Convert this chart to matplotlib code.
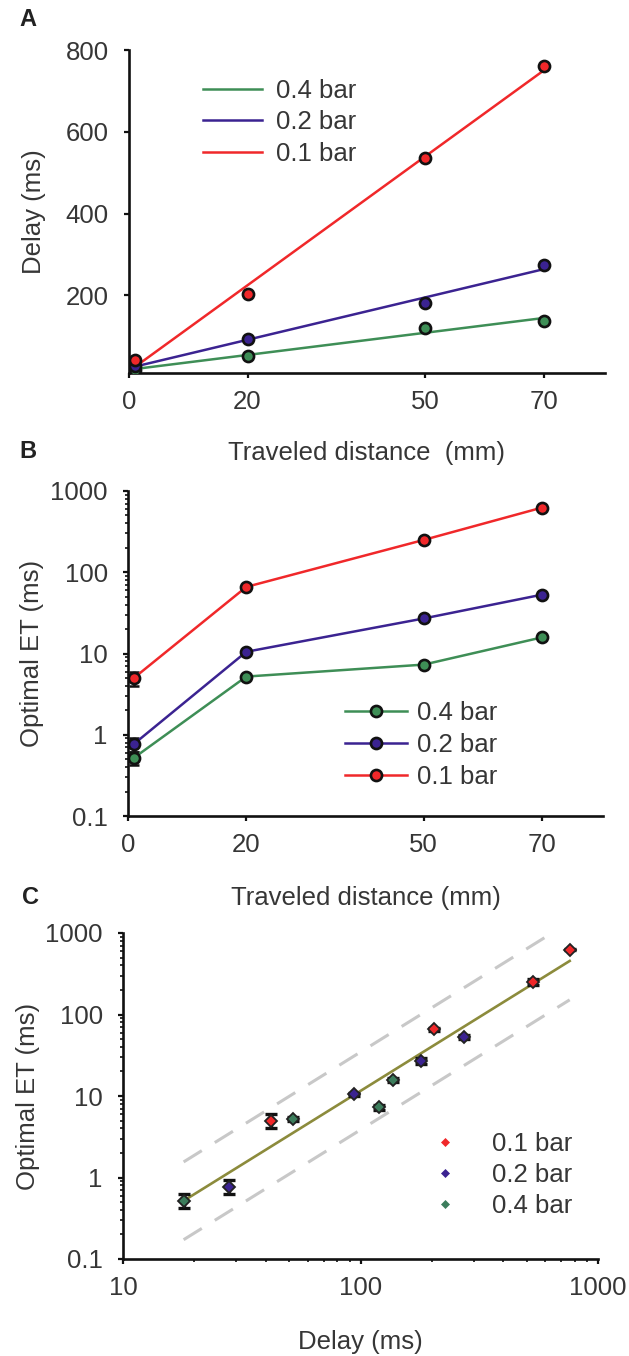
import numpy as np
import matplotlib
matplotlib.use("Agg")
import matplotlib.pyplot as plt
from matplotlib.ticker import LogLocator, NullFormatter, FixedLocator, FuncFormatter

plt.rcParams['font.family'] = ['Liberation Sans', 'DejaVu Sans']

# ---------------- data ----------------
distance = [1, 20, 50, 70]             # traveled distance (mm)
pressures = ['0.4 bar', '0.2 bar', '0.1 bar']

delay_04 = [18, 52, 120, 137]          # delay (ms)
delay_02 = [28, 94, 180, 274]
delay_01 = [42, 203, 535, 760]

et_04 = [0.52, 5.2, 7.3, 15.8]         # optimal ET (ms)
et_02 = [0.77, 10.5, 27, 53]
et_01 = [5.0, 66, 250, 625]

err_04 = [0.1, 0.3, 0.5, 1.0]
err_02 = [0.15, 0.5, 2.0, 3.0]
err_01 = [1.0, 3.0, 22, 15]

a_yticks = [200, 400, 600, 800]
x_ticks = [0, 20, 50, 70]
log_ticks_et = [0.1, 1, 10, 100, 1000]
log_ticks_delay = [10, 100, 1000]

# ---------------- style ----------------
col = {'0.4 bar': '#3e8e56', '0.2 bar': '#3b2391', '0.1 bar': '#f0282a'}
colC = {'0.4 bar': '#3c7d5c', '0.2 bar': '#3b2391', '0.1 bar': '#f0282a'}
txt = '#363636'
FS = 18.5
W, H = 629, 1356
fig = plt.figure(figsize=(W / 100, H / 100), dpi=100)

def ax_px(l, r, t, b):
    return fig.add_axes([l / W, 1 - b / H, (r - l) / W, (b - t) / H])

def style(ax):
    for s in ['top', 'right']:
        ax.spines[s].set_visible(False)
    for s in ['left', 'bottom']:
        ax.spines[s].set_linewidth(1.9)
        ax.spines[s].set_color('#111111')
    ax.tick_params(axis='both', which='major', direction='out', length=3.5, width=1.6,
                   colors='#111111', labelcolor=txt, labelsize=FS)
    ax.tick_params(axis='x', which='major', pad=9)
    ax.tick_params(axis='y', which='major', pad=11)
    ax.tick_params(axis='both', which='minor', direction='out', length=2.2, width=1.2, colors='#111111')

def fmt_log(v, p):
    return ('%g' % v)

delays = {'0.4 bar': delay_04, '0.2 bar': delay_02, '0.1 bar': delay_01}
ets = {'0.4 bar': et_04, '0.2 bar': et_02, '0.1 bar': et_01}
errs = {'0.4 bar': err_04, '0.2 bar': err_02, '0.1 bar': err_01}

# ---------------- panel A ----------------
axA = ax_px(129, 605, 50, 373)
style(axA)
handles = []
for p in pressures:
    d = np.array(distance, float)
    y = np.array(delays[p], float)
    k, c = np.polyfit(d, y, 1)
    h, = axA.plot(d, k * d + c, color=col[p], lw=1.8, label=p, zorder=2)
    handles.append(h)
for p in pressures:
    axA.plot(distance, delays[p], 'o', ms=8, mfc=col[p], mec='#111111', mew=1.9, zorder=3)
axA.set_xlim(0, 80.3)
axA.set_ylim(10, 800)
axA.set_xticks(x_ticks)
axA.set_yticks(a_yticks)
axA.set_ylabel('Delay (ms)', fontsize=FS, color=txt)
axA.set_xlabel('Traveled distance  (mm)', fontsize=FS, color=txt)
axA.yaxis.set_label_coords((34 - 129) / 476, 0.5)
axA.xaxis.set_label_coords(0.5, -(453 - 373) / 323)
axA.xaxis.label.set_va('center')
axA.yaxis.label.set_va('center')
axA.legend(handles=handles, loc='upper left', bbox_to_anchor=(0.134, 0.943), frameon=False,
           fontsize=FS, handlelength=2.3, handletextpad=0.55, labelspacing=0.3,
           labelcolor=txt, borderaxespad=0)

# ---------------- panel B ----------------
axB = ax_px(128, 603, 491, 816)
style(axB)
axB.set_yscale('log')
hB = []
for p in ['0.1 bar', '0.2 bar', '0.4 bar']:
    axB.errorbar(distance, ets[p], yerr=errs[p], fmt='none', ecolor='#111111', elinewidth=1.8,
                 capsize=3.5, capthick=1.8, zorder=2)
for p in pressures:
    h, = axB.plot(distance, ets[p], '-o', color=col[p], lw=1.8, ms=8, mfc=col[p],
                  mec='#111111', mew=1.9, label=p, zorder=3)
    hB.append(h)
axB.set_xlim(0, 80.3)
axB.set_ylim(0.1, 1000)
axB.set_xticks(x_ticks)
axB.yaxis.set_major_locator(FixedLocator(log_ticks_et))
axB.yaxis.set_major_formatter(FuncFormatter(fmt_log))
axB.yaxis.set_minor_locator(LogLocator(base=10, subs=np.arange(2, 10)))
axB.yaxis.set_minor_formatter(NullFormatter())
axB.set_ylabel('Optimal ET (ms)', fontsize=FS, color=txt)
axB.set_xlabel('Traveled distance (mm)', fontsize=FS, color=txt)
axB.yaxis.set_label_coords((32 - 128) / 475, 0.5)
axB.xaxis.set_label_coords(0.5, -(898 - 816) / 325)
axB.xaxis.label.set_va('center')
axB.yaxis.label.set_va('center')
axB.legend(handles=hB, loc='upper left', bbox_to_anchor=(0.436, 0.387), frameon=False,
           fontsize=FS, handlelength=2.4, handletextpad=0.4, labelspacing=0.33,
           labelcolor=txt, borderaxespad=0)

# ---------------- panel C ----------------
axC = ax_px(123, 598, 933, 1259)
style(axC)
axC.set_xscale('log')
axC.set_yscale('log')
allx = np.concatenate([np.array(delays[p], float) for p in pressures])
ally = np.concatenate([np.array(ets[p], float) for p in pressures])
kk, cc = np.polyfit(np.log10(allx), np.log10(ally), 1)
xf = np.logspace(np.log10(allx.min()), np.log10(allx.max()), 50)
yf = 10 ** (kk * np.log10(xf) + cc)
axC.plot(xf, yf * 3.0, color='#c8c8c8', lw=2.2, dashes=(7, 5), zorder=1)
axC.plot(xf, yf / 3.0, color='#c8c8c8', lw=2.2, dashes=(7, 5), zorder=1)
axC.plot(xf, yf, color='#8c8b3c', lw=1.9, zorder=2)
hC = []
for p in ['0.1 bar', '0.2 bar', '0.4 bar']:
    axC.errorbar(delays[p], ets[p], yerr=errs[p], fmt='none', ecolor='#111111', elinewidth=2.4,
                 capsize=4, capthick=2.4, zorder=3)
    axC.plot(delays[p], ets[p], 'D', ms=6, mfc=colC[p], mec='#222222', mew=1.3, zorder=4)
    h, = axC.plot([], [], 'D', ms=4, mfc=colC[p], mec=colC[p], mew=0.5, ls='none', label=p)
    hC.append(h)
axC.set_xlim(10, 1000)
axC.set_ylim(0.1, 1000)
axC.xaxis.set_major_locator(FixedLocator(log_ticks_delay))
axC.xaxis.set_major_formatter(FuncFormatter(fmt_log))
axC.yaxis.set_major_locator(FixedLocator(log_ticks_et))
axC.yaxis.set_major_formatter(FuncFormatter(fmt_log))
for a in (axC.xaxis, axC.yaxis):
    a.set_minor_locator(LogLocator(base=10, subs=np.arange(2, 10)))
    a.set_minor_formatter(NullFormatter())
axC.set_ylabel('Optimal ET (ms)', fontsize=FS, color=txt)
axC.set_xlabel('Delay (ms)', fontsize=FS, color=txt)
axC.yaxis.set_label_coords((28 - 123) / 475, 0.5)
axC.xaxis.set_label_coords(0.5, -(1342 - 1259) / 326)
axC.xaxis.label.set_va('center')
axC.yaxis.label.set_va('center')
axC.legend(handles=hC, loc='upper left', bbox_to_anchor=(0.63, 0.421), frameon=False,
           fontsize=FS, handlelength=1.0, handletextpad=1.3, labelspacing=0.27,
           labelcolor=txt, borderaxespad=0)

# ---------------- panel letters ----------------
for lab, x, y in [('A', 28, 20), ('B', 28, 452), ('C', 30, 897)]:
    fig.text(x / W, 1 - y / H, lab, fontsize=17, fontweight='bold', color='#222222',
             ha='center', va='center')

fig.savefig('out.png', dpi=100)
